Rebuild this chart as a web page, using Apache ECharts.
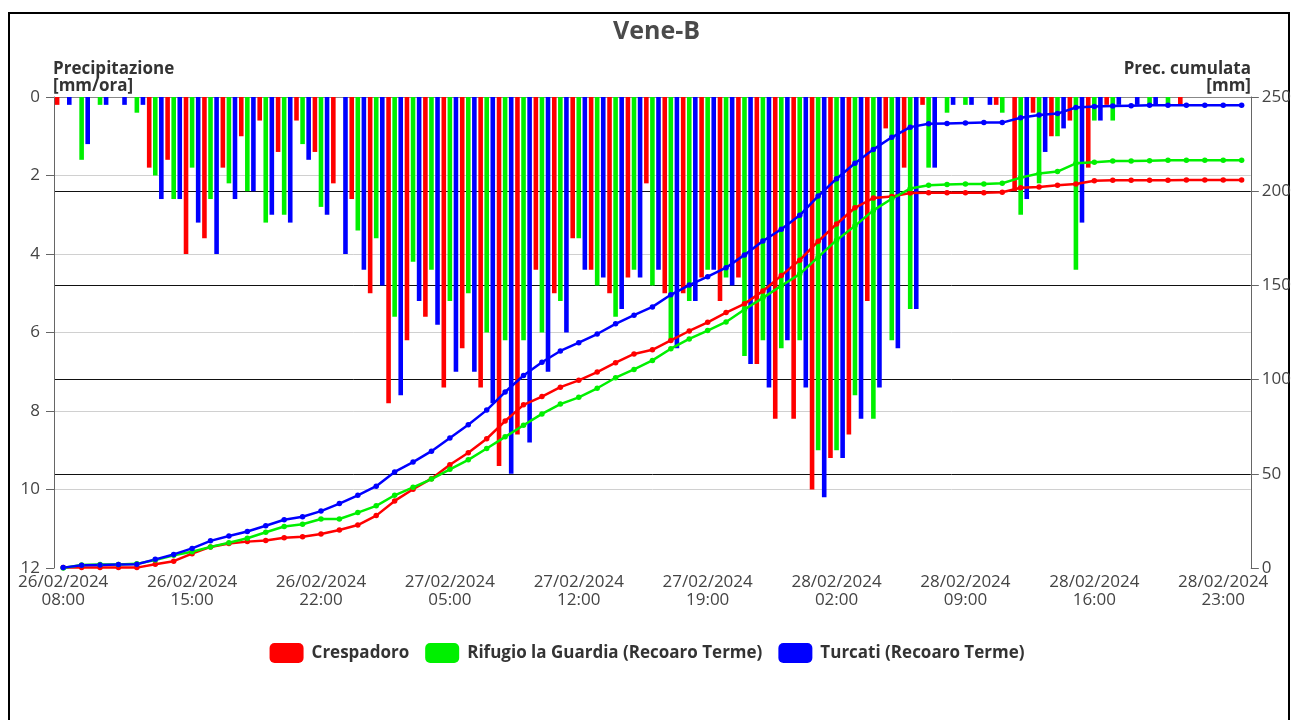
<!DOCTYPE html>
<html><head><meta charset="utf-8">
<script src="https://cdn.jsdelivr.net/npm/echarts@6/dist/echarts.min.js"></script>
<style>
html,body{margin:0;padding:0;background:#fff;}
#frame{position:absolute;left:8px;top:12px;width:1282px;height:740px;border:2px solid #000;box-sizing:border-box;}
#chart{position:absolute;left:0;top:0;width:1294px;height:720px;}
</style></head><body>
<div id="frame"></div>
<div id="chart"></div>
<script>
// Hourly categories from 26/02/2024 08:00 to 29/02/2024 00:00
var startDay = 26, startHour = 8, nHours = 65;
var categories = [];
for (var i = 0; i < nHours; i++) {
  var t = startHour + i;
  var d = startDay + Math.floor(t / 24);
  var hh = t % 24;
  categories.push((d < 10 ? '0' + d : d) + '/02/2024\n' + (hh < 10 ? '0' + hh : hh) + ':00');
}
var seriesNames = ['Crespadoro', 'Rifugio la Guardia (Recoaro Terme)', 'Turcati (Recoaro Terme)'];
var colors = ['#ff0000', '#00f000', '#0000ff'];

// Hourly precipitation [mm/ora]
var hourlyCrespadoro = [0.2,0,0,0,0,1.8,1.6,4.0,3.6,1.8, 1.0,0.6,1.4,0.6,1.4,2.2,2.6,5.0,7.8,6.2,
  5.6,7.4,6.4,7.4,9.4,8.6,4.4,5.0,3.6,4.4, 5.0,4.6,2.2,5.0,5.0,4.6,5.2,4.6,6.8,8.2,
  8.2,10.0,9.2,8.6,5.2,0.8,1.8,0.2,0,0, 0,0.2,2.4,0.4,1.0,0.6,1.8,0.2,0,0, 0,0.2,0,0,0];
var hourlyRifugio = [0,1.6,0.2,0,0.4,2.0,2.6,1.8,2.6,2.2, 2.4,3.2,3.0,1.2,2.8,0,3.4,3.6,5.6,4.2,
  4.4,5.2,5.0,6.0,6.2,6.2,6.0,5.2,3.6,4.8, 5.6,4.4,4.8,6.2,5.2,4.4,4.6,6.6,6.2,6.4,
  6.2,9.0,9.0,7.6,8.2,6.2,5.4,1.8,0.4,0.2, 0,0.4,3.0,2.2,1.0,4.4,0.6,0.6,0,0.2, 0.2,0,0,0,0];
var hourlyTurcati = [0.2,1.2,0.2,0.2,0.2,2.6,2.6,3.2,4.0,2.6, 2.4,3.0,3.2,1.6,3.0,4.0,4.4,4.8,7.6,5.2,
  5.8,7.0,7.0,7.8,9.6,8.8,7.0,6.0,4.4,4.6, 5.4,4.6,4.4,6.4,5.2,4.4,4.8,6.8,7.4,6.2,
  7.4,10.2,9.2,8.2,7.4,6.4,5.4,1.8,0.2,0.2, 0.2,0,2.6,1.4,0.8,3.2,0.6,0.2,0.2,0.2, 0,0,0,0,0];

// Cumulated precipitation [mm]
var cumCrespadoro = [0.2,0.2,0.2,0.2,0.2,2.0,3.6,7.6,11.2,13.0, 14.0,14.6,16.0,16.6,18.0,20.2,22.8,27.8,35.6,41.8,
  47.4,54.8,61.2,68.6,78.0,86.6,91.0,96.0,99.6,104.0, 109.0,113.6,115.8,120.8,125.8,130.4,135.6,140.2,147.0,155.2,
  163.4,173.4,182.6,191.2,196.4,197.2,199.0,199.2,199.2,199.2, 199.2,199.4,201.8,202.2,203.2,203.8,205.6,205.8,205.8,205.8,
  205.8,206.0,206.0,206.0,206.0];
var cumRifugio = [0,1.6,1.8,1.8,2.2,4.2,6.8,8.6,11.2,13.4, 15.8,19.0,22.0,23.2,26.0,26.0,29.4,33.0,38.6,42.8,
  47.2,52.4,57.4,63.4,69.6,75.8,81.8,87.0,90.6,95.4, 101.0,105.4,110.2,116.4,121.6,126.0,130.6,137.2,143.4,149.8,
  156.0,165.0,174.0,181.6,189.8,196.0,201.4,203.2,203.6,203.8, 203.8,204.2,207.2,209.4,210.4,214.8,215.4,216.0,216.0,216.2,
  216.4,216.4,216.4,216.4,216.4];
var cumTurcati = [0.2,1.4,1.6,1.8,2.0,4.6,7.2,10.4,14.4,17.0, 19.4,22.4,25.6,27.2,30.2,34.2,38.6,43.4,51.0,56.2,
  62.0,69.0,76.0,83.8,93.4,102.2,109.2,115.2,119.6,124.2, 129.6,134.2,138.6,145.0,150.2,154.6,159.4,166.2,173.6,179.8,
  187.2,197.4,206.6,214.8,222.2,228.6,234.0,235.8,236.0,236.2, 236.4,236.4,239.0,240.4,241.2,244.4,245.0,245.2,245.4,245.6,
  245.6,245.6,245.6,245.6,245.6];

var leftTicks = [0, 12, 2];   // min, max, interval
var rightTicks = [0, 250, 50];

var hourly = [hourlyCrespadoro, hourlyRifugio, hourlyTurcati];
var cums = [cumCrespadoro, cumRifugio, cumTurcati];
var FONT = '"Open Sans", "Noto Sans", sans-serif';

var series = [];
for (var k = 0; k < 3; k++) {
  series.push({
    name: seriesNames[k], type: 'bar', yAxisIndex: 0, data: hourly[k],
    barWidth: 4.6, barGap: '32%', itemStyle: {color: colors[k]}, z: 2
  });
}
for (var k = 0; k < 3; k++) {
  series.push({
    name: seriesNames[k], type: 'line', yAxisIndex: 1, data: cums[k],
    symbol: 'circle', symbolSize: 5.5, showSymbol: true,
    lineStyle: {color: colors[k], width: 2.5}, itemStyle: {color: colors[k]}, z: 5
  });
}

var chart = echarts.init(document.getElementById('chart'), null, {renderer: 'canvas'});
chart.setOption({
  animation: false,
  title: {
    text: 'Vene-B', left: 608, top: 14,
    textStyle: {fontFamily: FONT, fontSize: 25, fontWeight: 'bold', color: '#4a4a4a'}
  },
  legend: {
    data: seriesNames, bottom: 52, left: 'center', icon: 'roundRect',
    itemWidth: 34, itemHeight: 20, itemGap: 16,
    textStyle: {fontFamily: FONT, fontSize: 17, fontWeight: 'bold', color: '#333', padding: [0, 0, 0, 3]}
  },
  grid: {left: 54, right: 43, top: 97, bottom: 152},
  xAxis: {
    type: 'category', data: categories, boundaryGap: true,
    axisLine: {lineStyle: {color: '#888'}},
    axisTick: {alignWithLabel: true, interval: 6, length: 6, lineStyle: {color: '#666'}},
    axisLabel: {interval: 6, fontFamily: FONT, fontSize: 17, color: '#444', lineHeight: 18, margin: 5}
  },
  yAxis: [{
    type: 'value', inverse: true, min: leftTicks[0], max: leftTicks[1], interval: leftTicks[2],
    axisLine: {show: true, lineStyle: {color: '#666'}},
    axisTick: {show: true, length: 8, lineStyle: {color: '#666'}},
    axisLabel: {fontFamily: FONT, fontSize: 17, color: '#444', margin: 14},
    splitLine: {show: true, showMinLine: false, showMaxLine: false, lineStyle: {color: '#d0d0d0', width: 1}}
  }, {
    type: 'value', position: 'right', min: rightTicks[0], max: rightTicks[1], interval: rightTicks[2],
    axisLine: {show: true, lineStyle: {color: '#666'}},
    axisTick: {show: true, length: 8, lineStyle: {color: '#666'}},
    axisLabel: {fontFamily: FONT, fontSize: 17, color: '#444', margin: 11},
    splitLine: {show: true, showMinLine: false, lineStyle: {color: '#111', width: 1}}
  }],
  graphic: [
    {type: 'text', left: 53, top: 61, style: {text: 'Precipitazione', font: 'bold 17px ' + FONT, fill: '#333'}},
    {type: 'text', left: 53, top: 78, style: {text: '[mm/ora]', font: 'bold 17px ' + FONT, fill: '#333'}},
    {type: 'text', right: 43, top: 61, style: {text: 'Prec. cumulata', font: 'bold 17px ' + FONT, fill: '#333', align: 'right'}},
    {type: 'text', right: 43, top: 78, style: {text: '[mm]', font: 'bold 17px ' + FONT, fill: '#333', align: 'right'}}
  ],
  series: series
});
</script>
</body></html>
